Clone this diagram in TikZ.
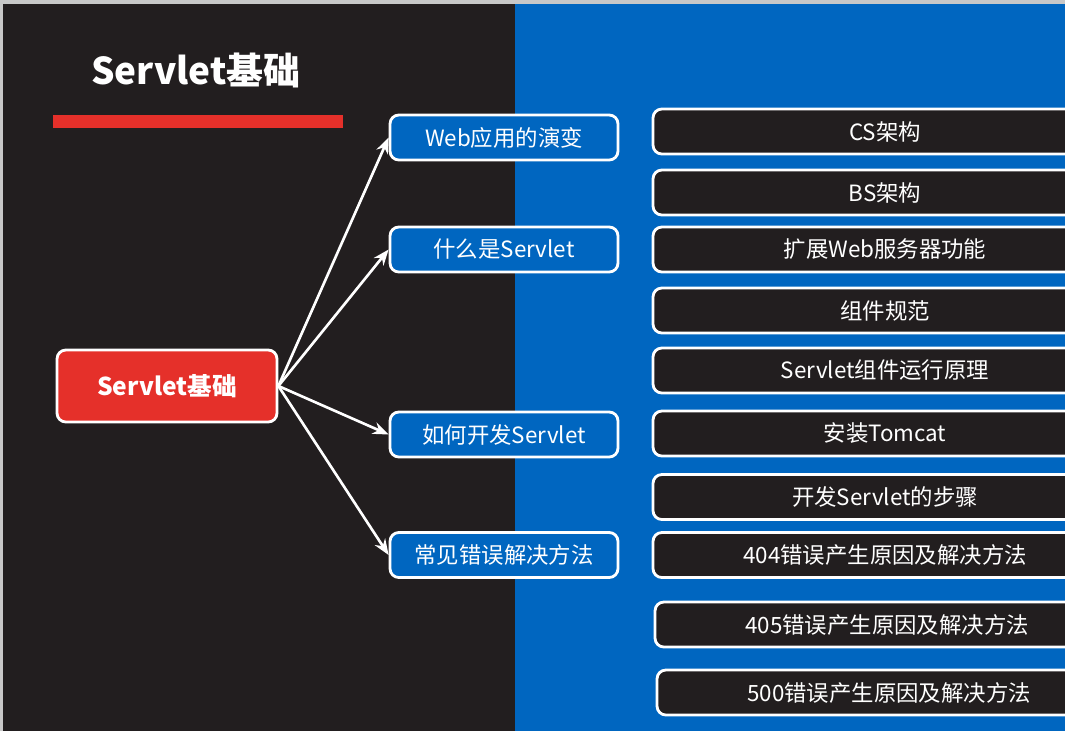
\documentclass[tikz,border=0pt]{standalone}
\usepackage{fontspec}
\setmainfont{Noto Sans CJK SC}
\usetikzlibrary{arrows.meta, positioning}
\definecolor{bgdark}{HTML}{221E1F}
\definecolor{panelblue}{HTML}{0066C0}
\definecolor{topicred}{HTML}{E5302A}
\definecolor{framegray}{HTML}{C8C8C8}

\tikzset{
  topic/.style={draw=white, line width=1.6pt, rounded corners=5pt, fill=panelblue,
    text=white, minimum width=4.56cm, minimum height=0.9cm, inner sep=0pt,
    font=\fontsize{12.75}{15}\selectfont},
  detail/.style={topic, fill=bgdark, minimum width=9.28cm},
  link/.style={draw=white, line width=1.5pt, -{Stealth[length=9pt,width=7pt]}}
}

\begin{document}
\begin{tikzpicture}[x=0.02cm, y=-0.02cm]
    \useasboundingbox (0,0) rectangle (1065,731);
    \clip (0,0) rectangle (1065,731);
    % Backgrounds
    \fill[framegray] (0,0) rectangle (1065,731);
    \fill[bgdark] (3,4) rectangle (1065,731);
    \fill[panelblue] (515,4) rectangle (1065,731);

    % Title and red bar
    \node[text=white, font=\bfseries\fontsize{21}{25}\selectfont] (title) at (196,70) {Servlet基础};
    \fill[topicred] (53,115) rectangle (343,128);

    % Root node
    \node[topic, fill=topicred, minimum width=4.4cm, minimum height=1.44cm,
          font=\bfseries\fontsize{14}{17}\selectfont] (root) at (167,386) {Servlet基础};

    % Second level
    \node[topic] (evolve) at (504,137.5) {Web应用的演变};
    \node[topic] (what) at (504,249.5) {什么是Servlet};
    \node[topic] (howto) at (504,434.5) {如何开发Servlet};
    \node[topic] (errors) at (504,555) {常见错误解决方法};

    \foreach \t in {evolve, what, howto, errors}
        \draw[link] (root.east) -- (\t.west);

    % Details on the right
    \node[detail] (cs) at (885,131.5) {CS架构};
    \node[detail] (bs) at (885,192.5) {BS架构};
    \node[detail] (extend) at (885,249.5) {扩展Web服务器功能};
    \node[detail] (spec) at (885,310.5) {组件规范};
    \node[detail] (principle) at (885,370.5) {Servlet组件运行原理};
    \node[detail] (tomcat) at (885,433.5) {安装Tomcat};
    \node[detail] (steps) at (885,497) {开发Servlet的步骤};
    \node[detail] (e404) at (885,555) {404错误产生原因及解决方法};
    \node[detail] (e405) at (887,624.5) {405错误产生原因及解决方法};
    \node[detail] (e500) at (889,692.5) {500错误产生原因及解决方法};
\end{tikzpicture}
\end{document}
